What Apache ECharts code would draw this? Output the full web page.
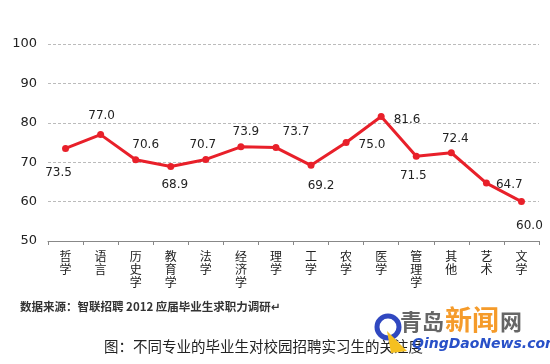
<!DOCTYPE html>
<html><head><meta charset="utf-8">
<script src="https://cdn.jsdelivr.net/npm/echarts@6/dist/echarts.min.js"></script>
<style>html,body{margin:0;padding:0;background:#fff}#c{width:550px;height:364px}</style>
</head><body><div id="c"></div>
<script>
const categories = ['哲学','语言','历史学','教育学','法学','经济学','理学','工学','农学','医学','管理学','其他','艺术','文学'];
const values = [73.5, 77.0, 70.6, 68.9, 70.7, 73.9, 73.7, 69.2, 75.0, 81.6, 71.5, 72.4, 64.7, 60.0];
const yTicks = [50, 60, 70, 80, 90, 100];
const labelPos = [
  {position:'bottom', offset:[-7,10]},
  {position:'top', offset:[1,-4]},
  {position:'top', offset:[10,0]},
  {position:'bottom', offset:[4,4]},
  {position:'top', offset:[-3,0]},
  {position:'top', offset:[5,0]},
  {position:'top', offset:[20,-1]},
  {position:'bottom', offset:[10,6]},
  {position:'right', offset:[4,2]},
  {position:'right', offset:[4,3]},
  {position:'bottom', offset:[-3,5]},
  {position:'top', offset:[4,1]},
  {position:'right', offset:[1,2]},
  {position:'bottom', offset:[8,10]}
];
const chart = echarts.init(document.getElementById('c'), null, {renderer:'canvas'});
const ff = '"Noto Sans CJK SC", "DejaVu Sans", sans-serif';
chart.setOption({
  animation:false,
  backgroundColor:'#fff',
  grid:{left:48, right:11, top:44, bottom:123},
  xAxis:{
    type:'category', data:categories, boundaryGap:true,
    axisLine:{lineStyle:{color:'#888', width:1}},
    axisTick:{show:true, length:4, lineStyle:{color:'#888'}},
    axisLabel:{interval:0, color:'#222', fontSize:12, fontFamily:ff, lineHeight:13, margin:9,
      formatter: v => v.split('').join('\n')}
  },
  yAxis:{
    type:'value', min:yTicks[0], max:yTicks[yTicks.length-1], interval:10,
    axisLine:{show:false}, axisTick:{show:false},
    axisLabel:{color:'#222', fontSize:13, fontFamily:'"DejaVu Sans", sans-serif', margin:11},
    splitLine:{lineStyle:{color:'#bbb', type:[3,2], width:1}}
  },
  series:[{
    type:'line', data: values.map((v,i)=>({value:v, label:labelPos[i]})),
    lineStyle:{color:'#e8202a', width:3},
    itemStyle:{color:'#e8202a'},
    symbol:'circle', symbolSize:7,
    label:{show:true, color:'#222', fontSize:12, fontFamily:'"DejaVu Sans", sans-serif', formatter: p => p.value.toFixed(1)}
  }],
  graphic:[
    {type:'text', left:20, top:301, style:{text:'数据来源：智联招聘 2012 应届毕业生求职力调研↵', fill:'#333', font:'bold 11.5px ' + ff}},
    {type:'text', left:104, top:339, style:{text:'图：不同专业的毕业生对校园招聘实习生的关注度', fill:'#222', font:'14.5px ' + ff}},
    {type:'circle', shape:{cx:388, cy:327, r:11}, style:{fill:'none', stroke:'#3048c0', lineWidth:5}},
    {type:'polygon', shape:{points:[[387,331],[407,351],[391,353]]}, style:{fill:'#f5c020'}},
    {type:'text', left:400, top:311, style:{text:'青岛', fill:'#666', font:'bold 22px ' + ff}},
    {type:'text', left:445, top:306, style:{text:'新闻', fill:'#f59b2a', font:'bold 27px ' + ff}},
    {type:'text', left:500, top:311, style:{text:'网', fill:'#666', font:'bold 22px ' + ff}},
    {type:'text', left:412, top:337, style:{text:'QingDaoNews.com', fill:'#2850c8', font:'italic bold 14px "DejaVu Sans", sans-serif'}}
  ]
});
</script></body></html>
